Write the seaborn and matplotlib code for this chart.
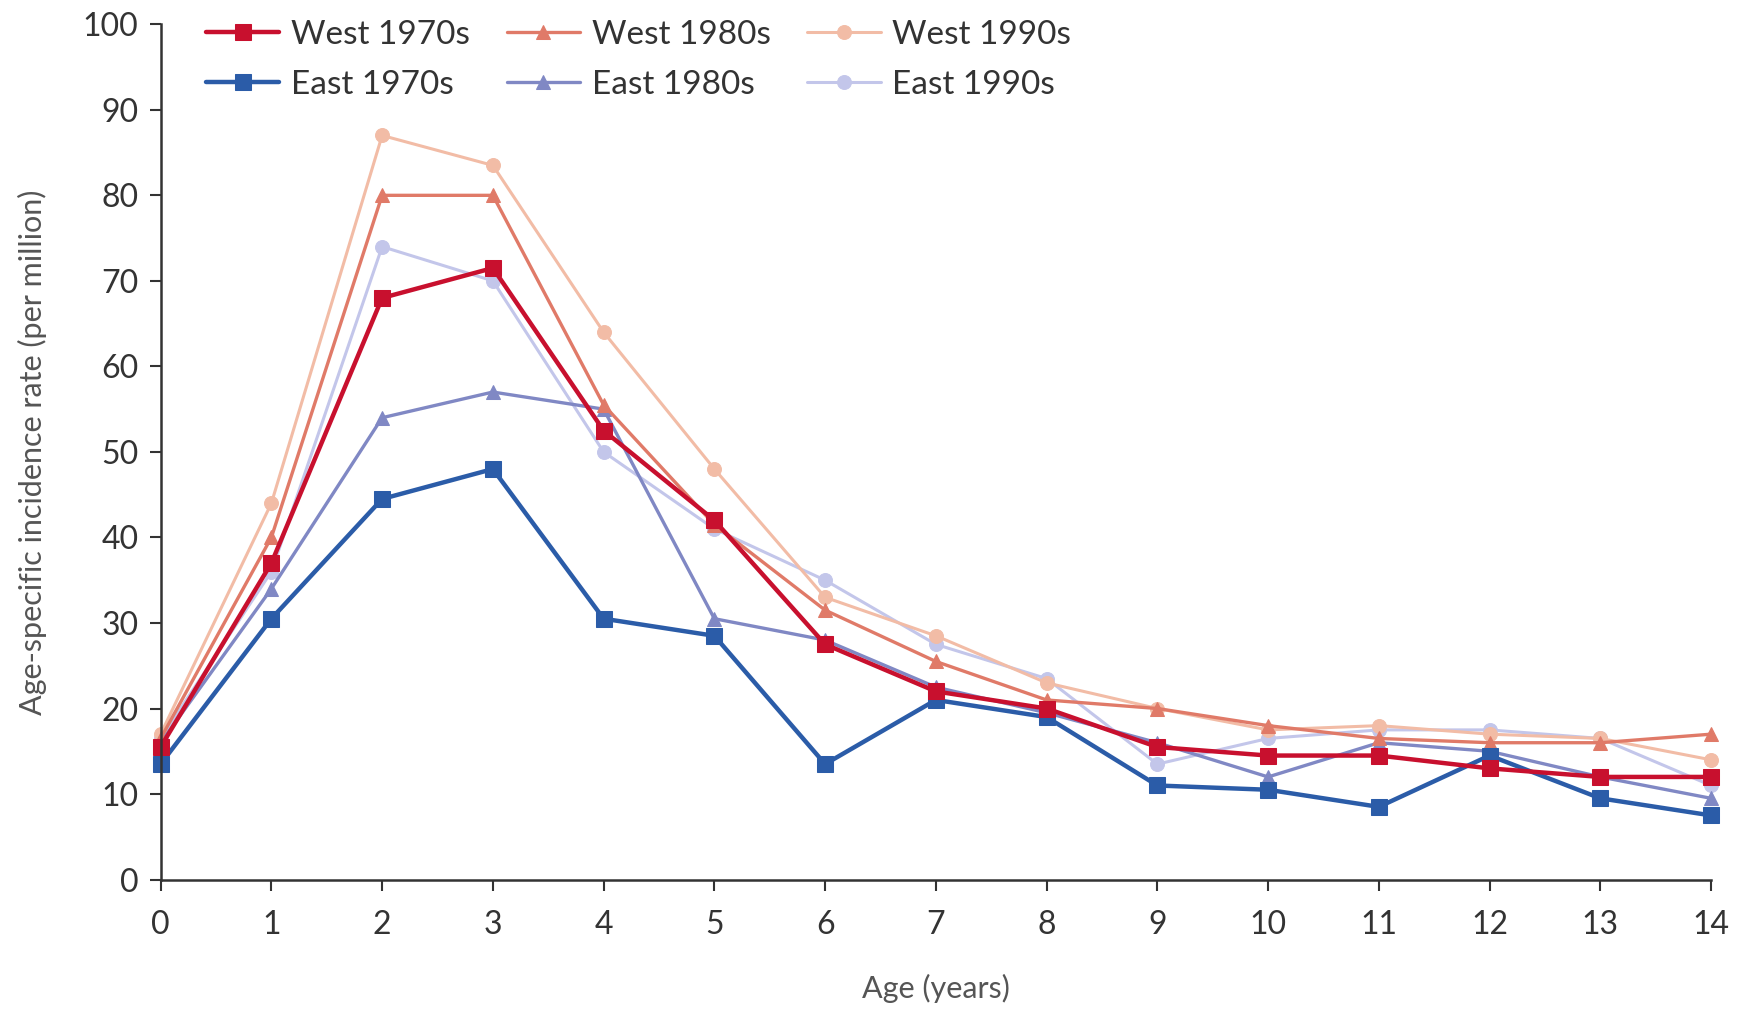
import pandas as pd
import seaborn as sns
import matplotlib.pyplot as plt

# ages 0-14
ages = list(range(15))

west_1970s = [15.5, 37, 68, 71.5, 52.5, 42, 27.5, 22, 20, 15.5, 14.5, 14.5, 13, 12, 12]
west_1980s = [16.5, 40, 80, 80, 55.5, 41.5, 31.5, 25.5, 21, 20, 18, 16.5, 16, 16, 17]
west_1990s = [17, 44, 87, 83.5, 64, 48, 33, 28.5, 23, 20, 17.5, 18, 17, 16.5, 14]
east_1970s = [13.5, 30.5, 44.5, 48, 30.5, 28.5, 13.5, 21, 19, 11, 10.5, 8.5, 14.5, 9.5, 7.5]
east_1980s = [16, 34, 54, 57, 55, 30.5, 28, 22.5, 19.5, 16, 12, 16, 15, 12, 9.5]
east_1990s = [16.5, 36, 74, 70, 50, 41, 35, 27.5, 23.5, 13.5, 16.5, 17.5, 17.5, 16.5, 11]

series = {
    "West 1970s": west_1970s,
    "West 1980s": west_1980s,
    "West 1990s": west_1990s,
    "East 1970s": east_1970s,
    "East 1980s": east_1980s,
    "East 1990s": east_1990s,
}

# colour, marker, line width, marker size
styles = {
    "West 1970s": ("#c8102e", "s", 3.2, 11),
    "West 1980s": ("#e07a68", "^", 2.4, 10),
    "West 1990s": ("#f2bca6", "o", 2.2, 10),
    "East 1970s": ("#2b5ca8", "s", 3.2, 11),
    "East 1980s": ("#8088c4", "^", 2.4, 10),
    "East 1990s": ("#c3c6ea", "o", 2.2, 10),
}

sns.set_style("ticks")
plt.rcParams['font.family'] = ['Lato', 'DejaVu Sans']

fig = plt.figure(figsize=(17.46, 10.11), dpi=100)
ax = fig.add_axes([0.092, 0.13, 0.888, 0.846])

# lighter decades first so the 1970s lines sit on top
draw_order = ["East 1990s", "West 1990s", "East 1980s", "West 1980s", "East 1970s", "West 1970s"]
for name in draw_order:
    color, marker, lw, ms = styles[name]
    df = pd.DataFrame({"age": ages, "rate": series[name]})
    sns.lineplot(data=df, x="age", y="rate", ax=ax, color=color, marker=marker,
                 linewidth=lw, markersize=ms, markeredgecolor=color,
                 label=name, clip_on=False)

ax.set_xlim(0, 14)
ax.set_ylim(0, 100)
ax.set_xticks(ages)
ax.set_yticks(range(0, 101, 10))
ax.tick_params(axis="both", labelsize=23, colors="#333333", length=8, width=1.5)
ax.tick_params(axis="x", pad=14)
ax.tick_params(axis="y", pad=8)
for s in ["top", "right"]:
    ax.spines[s].set_visible(False)
for s in ["left", "bottom"]:
    ax.spines[s].set_color("#333333")
    ax.spines[s].set_linewidth(1.8)

ax.set_xlabel("Age (years)", fontsize=22, color="#555555", labelpad=24)
ax.set_ylabel("Age-specific incidence rate (per million)", fontsize=22, color="#555555", labelpad=26)

handles, labels = ax.get_legend_handles_labels()
lookup = dict(zip(labels, handles))
legend_order = ["West 1970s", "East 1970s", "West 1980s", "East 1980s", "West 1990s", "East 1990s"]
ax.legend([lookup[l] for l in legend_order], legend_order, ncol=3, frameon=False,
          fontsize=24, loc="upper left", bbox_to_anchor=(0.01, 1.04),
          handlelength=2.2, columnspacing=1.1, labelspacing=0.6, handletextpad=0.35,
          labelcolor="#333333")

fig.savefig("out.png", dpi=100, facecolor="white")
